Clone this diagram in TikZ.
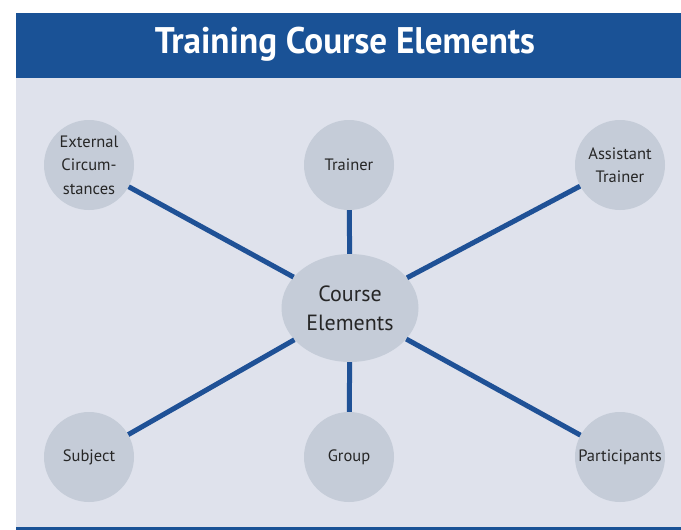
\documentclass[tikz,border=0pt]{standalone}
\usepackage{fontspec}
\setmainfont{PT Sans}
\usetikzlibrary{shapes.geometric}
\definecolor{hdrblue}{HTML}{1A5296}
\definecolor{bgcol}{HTML}{DFE2EC}
\definecolor{circcol}{HTML}{C5CCD8}
\definecolor{linecol}{HTML}{1F5196}
\tikzset{
  outer/.style={circle, fill=circcol, minimum size=90pt, inner sep=0pt, align=center, font=\fontsize{16.5}{23.5}\selectfont, text=black!85},
  hub/.style={ellipse, fill=circcol, minimum width=137pt, minimum height=108pt, inner sep=0pt, align=center, font=\fontsize{22}{29}\selectfont, text=black!85},
  link/.style={draw=linecol, line width=5pt}
}
\begin{document}
\begin{tikzpicture}[x=1pt,y=-1pt]
\useasboundingbox (0,0) rectangle (681,530);
\fill[hdrblue] (16,13) rectangle (681,78);
\fill[bgcol] (16,78) rectangle (681,527);
\fill[hdrblue] (16,527) rectangle (681,530);
\node[text=white, font=\fontsize{37}{40}\selectfont\bfseries] (title) at (345,44) {\scalebox{0.95}[1]{Training Course Elements}};
\node[hub] (c) at (350,308) {Course\\Elements};
\node[outer] (ext) at (89,165) {External\\Circum-\\stances};
\node[outer] (tr) at (349,165) {Trainer};
\node[outer] (at) at (620,165) {Assistant\\Trainer};
\node[outer] (sub) at (89,457) {Subject};
\node[outer] (grp) at (349,457) {Group};
\node[outer] (par) at (620,457) {Participants};
\draw[link] (c) -- (ext);
\draw[link] (c) -- (tr);
\draw[link] (c) -- (at);
\draw[link] (c) -- (sub);
\draw[link] (c) -- (grp);
\draw[link] (c) -- (par);
\end{tikzpicture}
\end{document}
